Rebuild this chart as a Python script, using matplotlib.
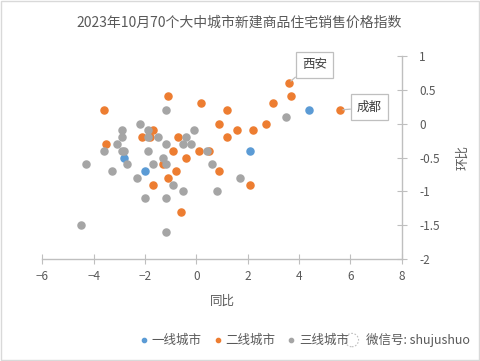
import matplotlib
matplotlib.use("Agg")
import matplotlib.pyplot as plt
from matplotlib.patches import Rectangle, Ellipse

plt.rcParams['font.family'] = ['Noto Sans CJK SC', 'DejaVu Sans']

# 同比 (x), 环比 (y)
tier1_x = [-2.8, -2.0, 4.4, 2.1]
tier1_y = [-0.5, -0.7, 0.2, -0.4]

tier2_x = [-1.1, 0.2, -3.6, 1.2, 0.9, 1.6, 1.2, -1.7, -2.1, -1.8, -0.7, -3.5, -0.9, 0.1, 0.5,
           -0.4, -1.3, -0.8, 0.9, -1.1, -1.7, -0.6, 3.6, 3.7, 3.0, 5.6, 2.7, 2.2, 2.1]
tier2_y = [0.4, 0.3, 0.2, 0.2, 0.0, -0.1, -0.2, -0.1, -0.2, -0.2, -0.2, -0.3, -0.4, -0.4, -0.4,
           -0.5, -0.6, -0.7, -0.7, -0.8, -0.9, -1.3, 0.6, 0.4, 0.3, 0.2, 0.0, -0.1, -0.9]

tier3_x = [-1.2, -2.2, -2.9, -1.9, -2.9, -1.9, -1.5, -0.1, -0.4, -3.1, -1.2, -0.5, -0.2, -3.6,
           -2.9, -2.8, -1.9, 0.4, -1.3, -4.3, -2.7, -1.7, -1.2, 0.6, -3.3, -2.3, -0.9, 1.7,
           -0.5, 0.8, -2.0, -1.2, -4.5, -1.2, 3.5]
tier3_y = [0.2, 0.0, -0.1, -0.1, -0.2, -0.2, -0.2, -0.1, -0.2, -0.3, -0.3, -0.3, -0.3, -0.4,
           -0.4, -0.4, -0.4, -0.4, -0.5, -0.6, -0.6, -0.6, -0.6, -0.6, -0.7, -0.8, -0.9, -0.8,
           -1.0, -1.0, -1.1, -1.1, -1.5, -1.6, 0.1]

labels = {'西安': (3.6, 0.6), '成都': (5.6, 0.2)}

fig = plt.figure(figsize=(4.8, 3.61), dpi=100)
ax = fig.add_axes([0.088, 0.2817, 0.749, 0.564])

ax.scatter(tier1_x, tier1_y, s=26, color='#5B9BD5', label='一线城市', zorder=3)
ax.scatter(tier2_x, tier2_y, s=26, color='#ED7D31', label='二线城市', zorder=3)
ax.scatter(tier3_x, tier3_y, s=26, color='#A5A5A5', label='三线城市', zorder=3)

ax.set_xlim(-6, 8)
ax.set_ylim(-2, 1)
ax.set_xticks(range(-6, 9, 2))
ax.set_yticks([-2, -1.5, -1, -0.5, 0, 0.5, 1])
ax.set_yticklabels(['-2', '-1.5', '-1', '-0.5', '0', '0.5', '1'])

for s in ['top', 'left']:
    ax.spines[s].set_visible(False)
for s in ['bottom', 'right']:
    ax.spines[s].set_color('#BFBFBF')
    ax.spines[s].set_linewidth(1.0)
ax.yaxis.tick_right()
ax.yaxis.set_label_position('right')
ax.tick_params(axis='both', direction='inout', length=7, color='#BFBFBF',
               labelsize=8.5, labelcolor='#595959')
ax.tick_params(axis='x', pad=4)
ax.tick_params(axis='y', pad=9)

ax.set_xlabel('同比', fontsize=9, color='#595959', labelpad=9)
ax.set_ylabel('环比', fontsize=9, color='#595959', rotation=90, labelpad=12)

fig.text(0.498, 0.937, '2023年10月70个大中城市新建商品住宅销售价格指数',
         ha='center', va='center', fontsize=10, color='#595959')

offsets = {'西安': (18.6, 12.9), '成都': (21.2, 2.0)}
relposes = {'西安': (0.0, 0.0), '成都': (0.0, 0.4)}
for name, (px, py) in labels.items():
    ax.annotate(name, xy=(px, py), xytext=offsets[name], textcoords='offset points',
                ha='center', va='center', fontsize=9, color='#404040',
                bbox=dict(boxstyle='square,pad=0.5', fc='white', ec='#BFBFBF', lw=0.9),
                arrowprops=dict(arrowstyle='-', color='#BFBFBF', lw=0.9,
                                relpos=relposes[name], shrinkA=0, shrinkB=2))

leg = fig.legend(loc='center', bbox_to_anchor=(0.5, 0.058), ncol=3, frameon=False,
                 fontsize=9, handletextpad=-0.4, columnspacing=0.3, markerscale=0.6)
for t in leg.get_texts():
    t.set_color('#595959')

# watermark
fig.patches.append(Ellipse((0.733, 0.058), 0.028, 0.037, transform=fig.transFigure,
                           fill=False, ec='#BFBFBF', lw=0.8, ls=(0, (1.5, 1.5))))
fig.text(0.762, 0.058, '微信号: shujushuo', ha='left', va='center',
         fontsize=9, color='#595959')

fig.patches.append(Rectangle((0.002, 0.003), 0.996, 0.994, transform=fig.transFigure,
                             fill=False, ec='#D9D9D9', lw=1.0))

fig.savefig('out.png', dpi=100)
